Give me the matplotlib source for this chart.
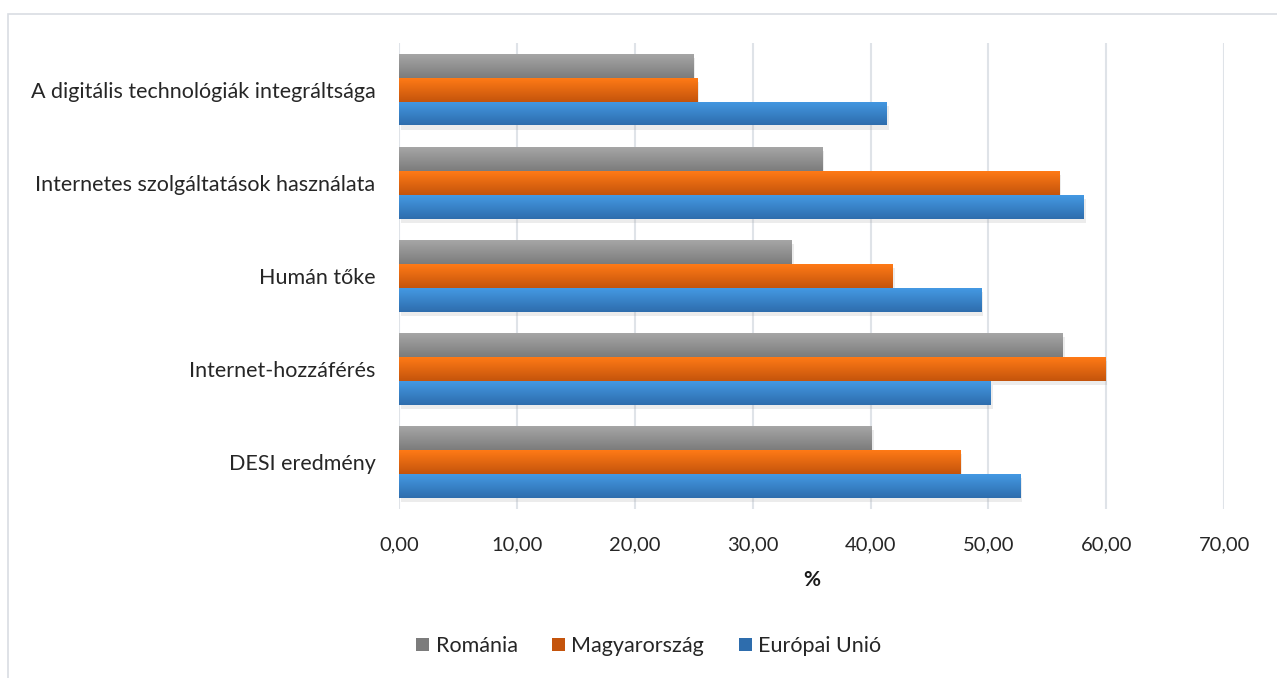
import numpy as np
import matplotlib.pyplot as plt
import matplotlib.patheffects as pe
from matplotlib.colors import LinearSegmentedColormap
from matplotlib.patches import Rectangle, Patch

plt.rcParams['font.family'] = ['Lato', 'DejaVu Sans']

categories = ['A digitális technológiák integráltsága',
              'Internetes szolgáltatások használata',
              'Humán tőke',
              'Internet-hozzáférés',
              'DESI eredmény']
series_names = ['Románia', 'Magyarország', 'Európai Unió']
romania = [24.95, 35.9, 33.3, 56.3, 40.1]
magyarorszag = [25.3, 56.0, 41.9, 59.9, 47.6]
eu = [41.4, 58.1, 49.4, 50.2, 52.7]
xticks = [0, 10, 20, 30, 40, 50, 60, 70]

# top colour, bottom colour of each gradient
grads = [('#a6a6a6', '#7c7c7c'), ('#ff7a16', '#c4540c'), ('#4499e3', '#2e6dad')]

fig = plt.figure(figsize=(12.77, 6.78), dpi=100)
ax = fig.add_axes([0.3125, 0.25, 0.6461, 0.6866])

fig.patches.append(Rectangle((0.0063, -0.2), 1.2, 1.179, transform=fig.transFigure,
                             fill=False, edgecolor='#d9dde3', linewidth=1.2, zorder=0))

h = 0.257
y = np.arange(len(categories))
for k, vals in enumerate([romania, magyarorszag, eu]):
    pos = y + (k - 1) * h
    bars = ax.barh(pos, vals, height=h, color=grads[k][1], zorder=3,
                   path_effects=[pe.SimplePatchShadow(offset=(1.5, -3), shadow_rgbFace='#999999', alpha=0.18),
                                 pe.Normal()])
    cmap = LinearSegmentedColormap.from_list('g%d' % k, [grads[k][0], grads[k][1]])
    grad = np.linspace(0, 1, 64).reshape(-1, 1)
    for b, p, v in zip(bars, pos, vals):
        im = ax.imshow(grad, cmap=cmap, aspect='auto', origin='upper',
                       extent=[0, v, p + h / 2, p - h / 2], zorder=4)
        im.set_clip_path(b)

ax.set_xlim(0, 70)
ax.set_ylim(len(categories) - 0.5, -0.5)
ax.set_xticks(xticks)
ax.set_xticklabels(['%d,00' % t for t in xticks])
ax.set_yticks(y)
ax.set_yticklabels(categories)
ax.tick_params(axis='both', length=0, colors='#262626')
ax.tick_params(axis='x', pad=20, labelsize=14.5)
ax.tick_params(axis='y', pad=17, labelsize=15.5)
ax.grid(axis='x', color='#dfe3e8', linewidth=1.5, zorder=0)
for s in ax.spines.values():
    s.set_visible(False)
ax.set_xlabel('%', fontsize=15, fontweight='bold', color='#1a1a1a', labelpad=12)

handles = [Patch(facecolor=grads[k][1], label=series_names[k]) for k in range(3)]
fig.legend(handles=handles, loc='center', bbox_to_anchor=(0.508, 0.047), ncol=3,
           frameon=False, fontsize=15.5, handlelength=0.6, handleheight=0.6,
           handletextpad=0.3, columnspacing=1.6, labelcolor='#262626')

fig.savefig('out.png', dpi=100)
